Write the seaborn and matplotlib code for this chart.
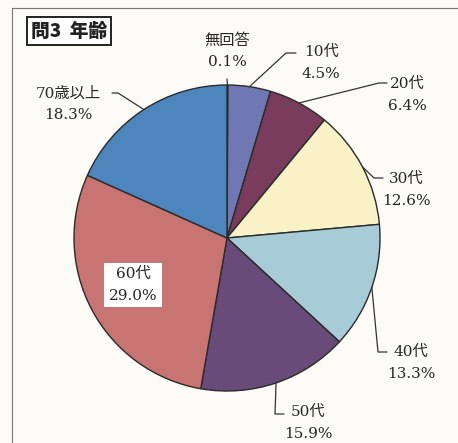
import numpy as np
import matplotlib
matplotlib.use("Agg")
import matplotlib.pyplot as plt
import seaborn as sns
from matplotlib.patches import Rectangle

# data (clockwise from 12 o'clock)
categories = ["無回答", "10代", "20代", "30代", "40代", "50代", "60代", "70歳以上"]
shares = [0.1, 4.5, 6.4, 12.6, 13.3, 15.9, 29.0, 18.3]
pct_labels = ["0.1%", "4.5%", "6.4%", "12.6%", "13.3%", "15.9%", "29.0%", "18.3%"]
colors = ["#5f6fa8", "#6f78b3", "#7a3c5c", "#f9f2c6", "#a8ccd7",
          "#694b7a", "#c77472", "#4d85bd"]

# label layout in pixel coords: text centre, leader elbow points
label_pos = {
    "無回答": (227, 51, [(227, 79)]),
    "10代": (321, 63, [(286, 53), (296, 53)]),
    "20代": (407, 95, [(379, 83), (387, 83)]),
    "30代": (406, 190, [(374, 178), (383, 178)]),
    "40代": (411, 363, [(378, 352), (387, 352)]),
    "50代": (308, 423, [(275, 414), (284, 414)]),
    "70歳以上": (68, 104, [(118, 93), (112, 93)]),
}

W, H = 458, 443
CX, CY, R = 227, 238, 153

sns.set_theme(style="white")
plt.rcParams["font.family"] = ["DejaVu Serif", "Noto Sans CJK JP", "DejaVu Sans"]
bg = "#fcfbf6"

fig = plt.figure(figsize=(W / 100, H / 100), dpi=100, facecolor=bg)
ax = fig.add_axes([0, 0, 1, 1])
ax.set_facecolor(bg)

# y is inverted below, so counterclock=True / startangle=-90 renders clockwise from top
wedges, _ = ax.pie(shares, colors=colors, startangle=-90, counterclock=True,
                   center=(CX, CY), radius=R,
                   wedgeprops=dict(edgecolor="#2a2a2a", linewidth=1.0))
ax.set_xlim(0, W)
ax.set_ylim(H, 0)
ax.set_aspect("equal")
ax.axis("off")

for w, cat, pct in zip(wedges, categories, pct_labels):
    if cat == "60代":
        ax.text(133, 285, f"{cat}\n{pct}", ha="center", va="center", fontsize=11,
                linespacing=1.7, color="#262626",
                bbox=dict(boxstyle="square,pad=0.3", fc="white", ec="none"))
        continue
    mid = np.deg2rad((w.theta1 + w.theta2) / 2)
    ax_pt = (CX + R * np.cos(mid), CY + R * np.sin(mid))
    tx, ty, elbow = label_pos[cat]
    pts = [ax_pt] + elbow
    ax.plot([p[0] for p in pts], [p[1] for p in pts], color="#333", lw=0.9)
    ax.text(tx, ty, f"{cat}\n{pct}", ha="center", va="center", fontsize=11,
            linespacing=1.7, color="#262626")

# outer frame of the clipping (only left and top edges show)
ax.add_patch(Rectangle((12, 8), 470, 460, fill=False, ec="#777", lw=0.8, clip_on=False))

# title box
ax.text(69, 31, "問3  年齢", ha="center", va="center", fontsize=13.5, fontweight="heavy",
        family=["Noto Sans CJK JP", "DejaVu Sans"], color="#222",
        bbox=dict(boxstyle="square,pad=0.22", fc="white", ec="#222", lw=1.4))

fig.savefig("out.png", dpi=100, facecolor=bg)
